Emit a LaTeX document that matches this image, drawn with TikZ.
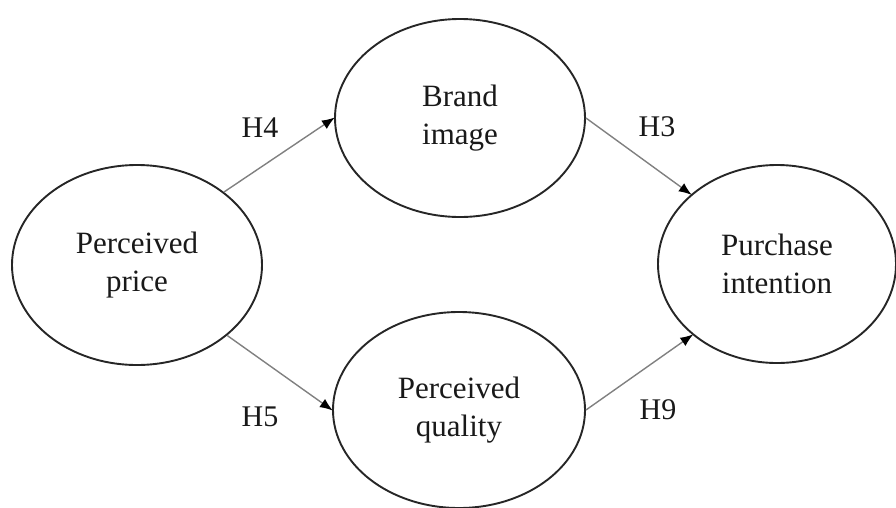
\documentclass[tikz,border=0pt]{standalone}
\usepackage{fontspec}
\setmainfont{Liberation Serif}
\usetikzlibrary{shapes.geometric,arrows.meta}
\begin{document}
\begin{tikzpicture}[x=1pt,y=-1pt,
  construct/.style={ellipse,draw=black!85,line width=1.9pt,inner sep=0pt,
     align=center,font=\fontsize{31}{38}\selectfont,text=black!90},
  hypo/.style={draw=black!50,line width=1.4pt,-{Latex[length=13pt,width=10pt,color=black]},shorten >=-1pt},
  hlabel/.style={font=\fontsize{30}{36}\selectfont,text=black!90,inner sep=0pt}]
\useasboundingbox (0,0) rectangle (896,507);
\node[construct,minimum width=250pt,minimum height=200pt] (pp) at (137,265) {Perceived\\price};
\node[construct,minimum width=250pt,minimum height=198pt] (bi) at (460,118) {Brand\\image};
\node[construct,minimum width=252pt,minimum height=196pt] (pq) at (459,410) {Perceived\\quality};
\node[construct,minimum width=238pt,minimum height=198pt] (pi) at (777,264) {Purchase\\intention};
\draw[hypo] (pp.40) -- (bi.180);
\draw[hypo] (pp.-38) -- (pq.180);
\draw[hypo] (bi.0) -- (pi.141);
\draw[hypo] (pq.0) -- (pi.-140);
\node[hlabel] (h4) at (260,128) {H4};
\node[hlabel] (h5) at (260,417) {H5};
\node[hlabel] (h3) at (657,127) {H3};
\node[hlabel] (h9) at (658,410) {H9};
\end{tikzpicture}
\end{document}
